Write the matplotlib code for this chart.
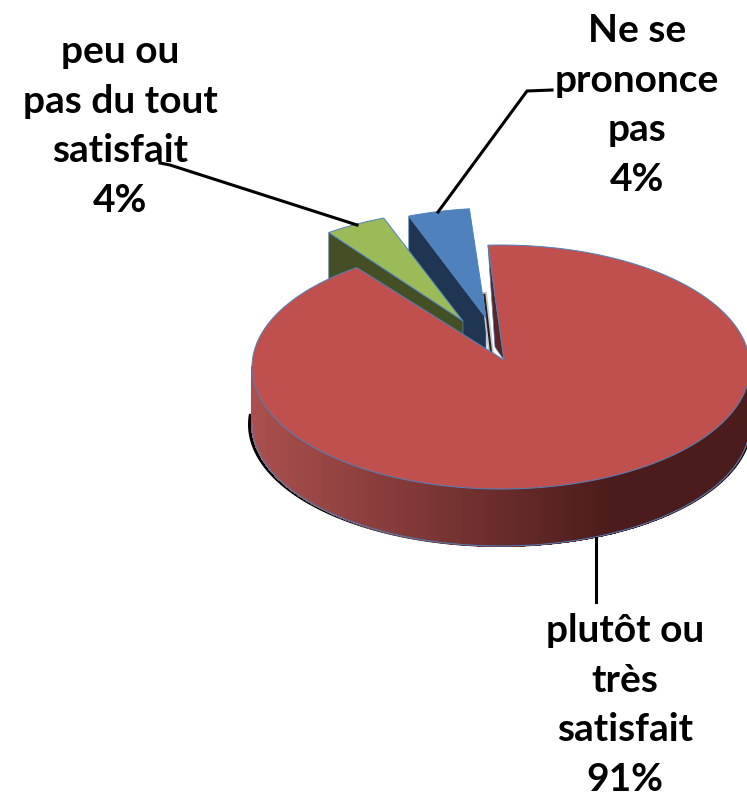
#coding:utf-8
import numpy as np
import matplotlib
matplotlib.use('Agg')
import matplotlib.pyplot as plt

labels = ['plutôt ou\ntrès\nsatisfait', 'Ne se\nprononce\npas', 'peu ou\npas du tout\nsatisfait']
values = [91, 1, 4, 4]   # red, small remainder, blue, green
percent = ['91%', '4%', '4%']

colors = ['#c0504d', '#d9d9d9', '#4f81bd', '#9bbb59']
side_colors = ['#5a2423', '#222222', '#1f3552', '#454f25']
edge = '#4f81bd'

cx, cy = 501, 367
rx, ry = 249, 122
depth = 57
start = 93

# outer arc shift and apex position of each slice, in pixels
shift = [(0, 0), (12, 49), (-3, -37), (-28, -35)]
apex = [(504, 360), (491, 352), (486, 318), (463, 321)]


def arc(t1, t2, dx=0, dy=0, n=200):
    t = np.radians(np.linspace(t1, t2, n))
    return cx + dx + rx * np.cos(t), cy + dy - ry * np.sin(t)


fig = plt.figure(figsize=(7.47, 7.99), dpi=100)
ax = fig.add_axes([0, 0, 1, 1])
ax.set_xlim(0, 747)
ax.set_ylim(799, 0)
ax.axis('off')

angles = 3.6 * np.array(values)
red_t1 = start - angles[0]
red_t2 = start
small_t = start + angles[1]
blue_t = small_t + angles[2]
green_t = blue_t + angles[3]
ranges = [(red_t1, red_t2), (start, small_t), (small_t, blue_t), (blue_t, green_t)]

# black shadow below the wall
t = np.radians(np.linspace(175, 365, 200))
ax.fill(cx - 1 + 252 * np.cos(t), cy + depth + 0.5 - 122.5 * np.sin(t), color='black', lw=0, zorder=1)
ax.fill([240, 760, 760, 240], [cy, cy, 398, 398], color='white', lw=0, zorder=1.1)

# red wall, strips from left to right
left = np.array(matplotlib.colors.to_rgb('#ab504e'))
right = np.array(matplotlib.colors.to_rgb('#4b1c1b'))
ts = np.linspace(180, 360, 181)
for a, b in zip(ts[:-1], ts[1:]):
    xa, ya = arc(a, b, n=2)
    f = min(max((xa.mean() - 252) / 360, 0), 1)
    ax.fill([xa[0], xa[1], xa[1], xa[0]], [ya[0], ya[1], ya[1] + depth, ya[0] + depth],
            color=left + (right - left) * f, lw=0.8, antialiased=False, zorder=2)
xb, yb = arc(180, 360)
ax.plot(xb, yb + depth, color=edge, lw=0.7, zorder=2.1)

# cut faces of the slices
for i, t_edge in zip([2, 3], [blue_t, green_t]):
    xo, yo = arc(t_edge, t_edge, shift[i][0], shift[i][1], n=1)
    ax.fill([xo[0], apex[i][0], apex[i][0], xo[0]],
            [yo[0], apex[i][1], apex[i][1] + depth, yo[0] + depth],
            color=side_colors[i], ec=edge, lw=0.5, zorder=3)

# thin remainder slice seen edge on
xo, yo = arc(small_t, small_t, shift[1][0], shift[1][1], n=1)
ax.plot([xo[0], apex[1][0]], [yo[0], apex[1][1]], color='#c8c8c8', lw=4, zorder=3.2)
ax.plot([xo[0], apex[1][0]], [yo[0], apex[1][1]], color=side_colors[1], lw=1.5, zorder=3.3)

# cut face of the red slice next to the gap
xo, yo = arc(red_t2, red_t2, n=1)
ax.fill([xo[0], apex[0][0], apex[0][0] - 9], [yo[0], apex[0][1], apex[0][1] - 13],
        color=side_colors[0], ec=edge, lw=0.5, zorder=3.5)

# top faces
for i in [3, 2, 0]:
    t1, t2 = ranges[i]
    x, y = arc(t1, t2, shift[i][0], shift[i][1])
    ax.fill(np.r_[x, apex[i][0]], np.r_[y, apex[i][1]], color=colors[i], ec=edge, lw=0.7,
            zorder=4 if i else 5)

# leader lines
ax.plot([438, 527, 552], [212, 91, 90], color='black', lw=2.2, zorder=6)
ax.plot([357, 170, 160], [225, 165, 163], color='black', lw=2.2, zorder=6)
ax.plot([596, 596], [538, 602], color='black', lw=2.2, zorder=6)

font = dict(family='Lato', fontweight='bold', fontsize=28, ha='center', va='center',
            linespacing=1.5, color='black', zorder=7)
ax.text(625, 705, labels[0] + '\n' + percent[0], **font)
ax.text(637, 105, labels[1] + '\n' + percent[1], **font)
ax.text(120, 126, labels[2] + '\n' + percent[2], **font)

fig.savefig('out.png', dpi=100)
